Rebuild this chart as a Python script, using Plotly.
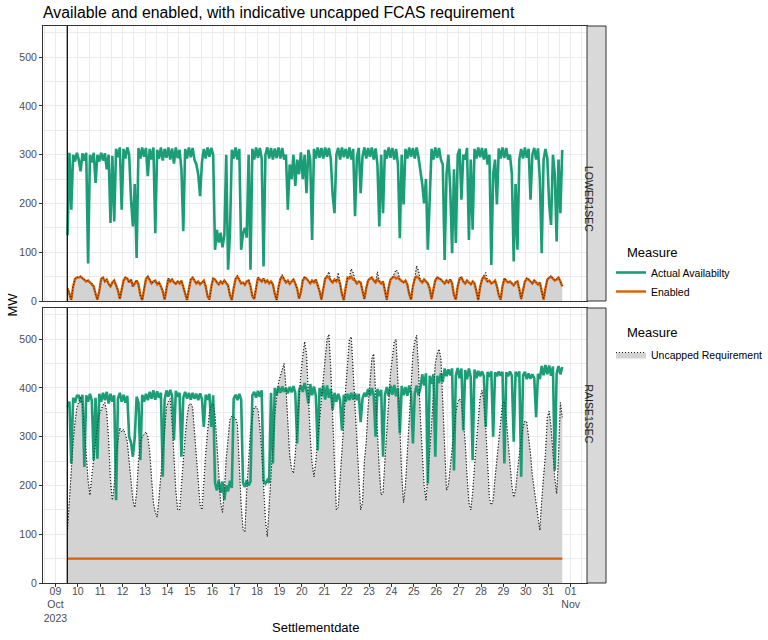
import pandas as pd
import plotly.graph_objects as go
from plotly.subplots import make_subplots

# Relevés toutes les 2 heures, du 09 oct 13:00 au 31 oct 15:00
times = pd.date_range("2023-10-09 13:00", "2023-10-31 15:00", freq="2h")

# LOWER1SEC - disponibilité réelle (MW)
lower_avail = [
    135, 304, 187, 300, 286, 304,                                # 09
    290, 266, 303, 288, 304, 77, 300, 284, 304, 242, 300, 286,   # 10
    304, 288, 303, 270, 300, 160, 298, 163, 312, 295, 315, 187,  # 11
    312, 292, 315, 300, 208, 153, 240, 88, 314, 292, 315, 296,   # 12
    314, 256, 312, 290, 315, 139, 310, 292, 315, 288, 312, 294,  # 13
    315, 290, 313, 282, 315, 293, 310, 270, 143, 312, 292, 315,  # 14
    295, 314, 290, 280, 260, 215, 285, 312, 292, 315, 296, 314,  # 15
    300, 105, 146, 120, 140, 110, 135, 300, 64, 140, 310, 292,   # 16
    315, 290, 312, 105, 139, 150, 130, 300, 64, 312, 290, 315,   # 17
    294, 314, 292, 71, 300, 315, 292, 314, 290, 313, 293, 315,   # 18
    292, 314, 290, 300, 187, 280, 250, 300, 236, 290, 260, 305,  # 19
    250, 300, 221, 310, 290, 125, 312, 292, 315, 294, 314, 292,  # 20
    315, 296, 314, 292, 218, 180, 300, 314, 290, 315, 295, 312,  # 21
    292, 315, 290, 312, 174, 295, 314, 221, 296, 315, 292, 314,  # 22
    296, 315, 290, 313, 280, 153, 300, 180, 310, 292, 315, 294,  # 23
    314, 290, 312, 280, 129, 300, 198, 312, 292, 315, 296, 314,  # 24
    292, 315, 295, 270, 240, 200, 250, 105, 230, 312, 290, 315,  # 25
    294, 314, 290, 280, 84, 260, 300, 230, 98, 270, 119, 300,    # 26
    312, 208, 300, 290, 314, 125, 290, 146, 312, 292, 315, 295,  # 27
    314, 290, 313, 280, 300, 74, 260, 290, 198, 313, 292, 315,   # 28
    293, 314, 290, 300, 260, 81, 240, 105, 290, 312, 292, 315,   # 29
    294, 312, 208, 300, 314, 290, 313, 250, 98, 290, 312, 292,   # 30
    198, 156, 300, 260, 122, 290, 180, 310,                      # 31
]

# LOWER1SEC - activé (MW)
lower_enabled = [
    26, 12, 3, 30, 45, 48,                          # 09
    48, 50, 46, 44, 40, 42, 38, 36, 30, 15, 3, 20,  # 10
    45, 48, 40, 44, 35, 30, 38, 42, 30, 22, 4, 25,  # 11
    42, 48, 46, 38, 44, 30, 36, 42, 34, 12, 2, 28,  # 12
    45, 50, 44, 36, 40, 42, 34, 38, 30, 20, 3, 22,  # 13
    46, 40, 44, 38, 35, 40, 36, 42, 30, 18, 2, 24,  # 14
    44, 48, 42, 36, 40, 34, 38, 42, 30, 10, 3, 30,  # 15
    46, 44, 38, 34, 40, 36, 42, 38, 32, 12, 2, 26,  # 16
    45, 50, 42, 36, 38, 33, 40, 42, 30, 10, 4, 30,  # 17
    48, 44, 40, 46, 38, 42, 36, 40, 34, 15, 2, 28,  # 18
    45, 50, 44, 38, 42, 35, 40, 44, 36, 25, 5, 18,  # 19
    42, 48, 46, 40, 36, 42, 38, 44, 34, 20, 3, 22,  # 20
    46, 50, 48, 42, 38, 44, 40, 46, 35, 14, 2, 28,  # 21
    48, 46, 50, 44, 42, 36, 40, 38, 20, 4, 26, 42,  # 22
    46, 48, 42, 38, 44, 40, 36, 40, 22, 3, 28, 44,  # 23
    48, 50, 46, 48, 44, 40, 38, 42, 34, 15, 3, 30,  # 24
    46, 50, 48, 42, 38, 44, 40, 36, 25, 4, 24, 42,  # 25
    48, 46, 44, 40, 36, 42, 38, 44, 36, 12, 3, 30,  # 26
    46, 48, 40, 36, 42, 38, 34, 40, 36, 20, 2, 28,  # 27
    44, 50, 46, 40, 42, 36, 38, 42, 30, 12, 3, 30,  # 28
    46, 42, 38, 40, 36, 32, 38, 40, 24, 4, 22, 40,  # 29
    46, 44, 40, 36, 42, 38, 34, 38, 22, 3, 26, 44,  # 30
    48, 50, 46, 42, 44, 48, 40, 30,                 # 31
]

# LOWER1SEC - besoin indicatif non plafonné (MW)
lower_req = [
    27, 12, 3, 31, 46, 49,                          # 09
    49, 51, 46, 44, 41, 42, 38, 37, 30, 15, 3, 20,  # 10
    46, 49, 40, 44, 35, 30, 38, 42, 31, 22, 4, 25,  # 11
    42, 49, 46, 38, 45, 30, 36, 43, 34, 12, 2, 28,  # 12
    46, 51, 44, 36, 40, 42, 34, 38, 30, 20, 3, 22,  # 13
    47, 40, 44, 38, 35, 41, 36, 42, 30, 18, 2, 24,  # 14
    44, 49, 42, 36, 40, 34, 38, 42, 30, 10, 3, 30,  # 15
    47, 44, 38, 34, 40, 36, 43, 38, 32, 12, 2, 26,  # 16
    46, 52, 42, 36, 38, 33, 40, 43, 30, 10, 4, 30,  # 17
    49, 44, 40, 47, 38, 42, 36, 40, 34, 15, 2, 28,  # 18
    46, 54, 44, 38, 42, 35, 40, 45, 36, 25, 5, 18,  # 19
    43, 50, 47, 40, 36, 42, 38, 45, 34, 20, 3, 22,  # 20
    46, 52, 60, 42, 38, 44, 40, 58, 35, 14, 2, 28,  # 21
    48, 50, 66, 58, 42, 36, 40, 38, 20, 4, 26, 42,  # 22
    46, 48, 42, 38, 60, 40, 36, 40, 22, 3, 28, 44,  # 23
    48, 56, 64, 60, 44, 40, 38, 42, 34, 15, 3, 30,  # 24
    46, 72, 62, 42, 38, 44, 40, 36, 25, 4, 24, 42,  # 25
    49, 47, 44, 40, 36, 42, 38, 45, 36, 12, 3, 30,  # 26
    47, 49, 40, 36, 42, 38, 34, 40, 36, 20, 2, 28,  # 27
    44, 52, 58, 40, 42, 36, 38, 42, 30, 12, 3, 30,  # 28
    47, 42, 38, 40, 36, 32, 38, 41, 24, 4, 22, 40,  # 29
    47, 44, 40, 36, 43, 38, 34, 38, 22, 3, 26, 44,  # 30
    49, 52, 46, 42, 45, 49, 40, 31,                 # 31
]

# RAISE1SEC - disponibilité réelle (MW)
raise_avail = [
    360, 372, 245, 380, 370, 384,                                # 09
    384, 370, 386, 238, 385, 372, 388, 374, 252, 380, 255, 388,  # 10
    372, 390, 375, 392, 368, 388, 372, 385, 170, 378, 390, 372,  # 11
    386, 370, 384, 300, 288, 259, 298, 382, 370, 252, 386, 372,  # 12
    388, 375, 392, 378, 395, 376, 393, 380, 390, 218, 376, 395,  # 13
    382, 396, 384, 293, 394, 382, 390, 259, 380, 392, 378, 390,  # 14
    376, 390, 378, 388, 375, 389, 377, 320, 386, 376, 388, 320,  # 15
    385, 205, 190, 210, 185, 208, 170, 200, 188, 210, 195, 378,  # 16
    386, 375, 388, 376, 205, 197, 211, 200, 208, 385, 392, 380,  # 17
    394, 382, 395, 210, 204, 211, 205, 390, 245, 400, 385, 403,  # 18
    390, 403, 392, 400, 389, 402, 391, 404, 390, 286, 395, 405,  # 19
    392, 410, 395, 368, 408, 385, 403, 384, 272, 400, 383, 405,  # 20
    376, 405, 380, 398, 355, 390, 372, 388, 375, 313, 386, 372,  # 21
    388, 375, 390, 376, 389, 375, 388, 330, 378, 390, 382, 398,  # 22
    384, 400, 385, 300, 398, 383, 396, 259, 385, 402, 384, 405,  # 23
    386, 406, 383, 400, 307, 404, 385, 402, 384, 405, 388, 286,  # 24
    390, 405, 385, 400, 428, 405, 430, 204, 425, 408, 428, 259,  # 25
    425, 410, 430, 412, 440, 424, 438, 426, 440, 231, 425, 441,  # 26
    420, 440, 313, 437, 418, 440, 422, 252, 438, 420, 435, 424,  # 27
    434, 424, 320, 433, 423, 434, 300, 432, 424, 434, 425, 433,  # 28
    245, 432, 424, 434, 425, 290, 433, 424, 434, 218, 426, 433,  # 29
    418, 430, 419, 428, 420, 340, 429, 418, 445, 426, 447, 428,  # 30
    446, 425, 444, 231, 430, 445, 428, 443,                      # 31
]

# RAISE1SEC - activé (MW), constant sur toute la période
raise_enabled = [50] * len(times)

# RAISE1SEC - besoin indicatif non plafonné (MW)
raise_req = [
    110, 175, 240, 290, 330, 360,                                # 09
    370, 382, 365, 320, 265, 210, 180, 220, 255, 290, 325, 345,  # 10
    355, 365, 370, 350, 295, 210, 170, 200, 265, 295, 318, 310,  # 11
    315, 305, 290, 250, 200, 170, 155, 185, 250, 290, 300, 305,  # 12
    310, 300, 270, 215, 165, 145, 135, 175, 225, 275, 325, 360,  # 13
    372, 378, 330, 255, 190, 150, 150, 200, 255, 300, 340, 365,  # 14
    368, 360, 310, 255, 200, 160, 150, 215, 265, 310, 350, 365,  # 15
    368, 345, 290, 215, 165, 145, 190, 255, 300, 335, 342, 340,  # 16
    338, 325, 230, 160, 110, 105, 190, 265, 310, 340, 360, 362,  # 17
    355, 320, 270, 200, 130, 95, 160, 230, 290, 345, 380, 410,   # 18
    425, 440, 450, 400, 320, 260, 235, 225, 265, 320, 380, 430,  # 19
    465, 495, 470, 380, 300, 245, 218, 250, 295, 335, 380, 420,  # 20
    460, 500, 510, 440, 340, 240, 150, 155, 210, 255, 330, 400,  # 21
    450, 500, 505, 440, 360, 300, 220, 150, 165, 250, 290, 360,  # 22
    410, 460, 470, 380, 300, 230, 180, 185, 250, 300, 370, 430,  # 23
    470, 495, 500, 420, 320, 220, 165, 200, 265, 310, 400, 470,  # 24
    495, 508, 440, 340, 255, 200, 170, 215, 270, 325, 390, 450,  # 25
    470, 480, 460, 360, 270, 190, 200, 240, 280, 320, 350, 370,  # 26
    378, 370, 330, 290, 220, 165, 150, 185, 240, 290, 340, 380,  # 27
    395, 375, 320, 230, 175, 160, 170, 215, 255, 300, 340, 368,  # 28
    372, 340, 290, 240, 200, 176, 190, 230, 265, 295, 320, 332,  # 29
    330, 300, 265, 220, 190, 160, 135, 108, 170, 215, 265, 340,  # 30
    352, 320, 265, 215, 183, 260, 370, 340,                      # 31
]

# Graduations de l'axe des dates
tick_days = pd.date_range("2023-10-09", "2023-11-01", freq="D")
tick_text = ["09<br>Oct<br>2023"] + [d.strftime("%d") for d in tick_days[1:-1]] + ["01<br>Nov"]
minor_days = pd.date_range("2023-10-08 12:00", "2023-11-01 12:00", freq="D")
x_range = ["2023-10-08 10:42", "2023-11-01 17:31"]
event_time = "2023-10-09 12:45"

GREEN = "#1B9E77"
ORANGE = "#D95F02"
FILL = "#D3D3D3"
FONT = "Liberation Sans, Arial, sans-serif"

panels = [
    ("LOWER1SEC", lower_avail, lower_enabled, lower_req),
    ("RAISE1SEC", raise_avail, raise_enabled, raise_req),
]

fig = make_subplots(rows=2, cols=1, shared_xaxes=True, vertical_spacing=7 / 557)

for i, (service, avail, enabled, req) in enumerate(panels):
    row = i + 1
    first = row == 1
    # Zone grise du besoin non plafonné
    fig.add_trace(go.Scatter(
        x=times, y=req, mode="lines", fill="tozeroy", fillcolor=FILL,
        line=dict(color="#222222", width=1, dash="1px,2px"),
        name="Uncapped Requirement", legend="legend2", legendgroup="req",
        showlegend=first,
    ), row=row, col=1)
    fig.add_trace(go.Scatter(
        x=times, y=avail, mode="lines", line=dict(color=GREEN, width=2.6),
        name="Actual Availabilty", legendgroup="avail", showlegend=first,
    ), row=row, col=1)
    fig.add_trace(go.Scatter(
        x=times, y=enabled, mode="lines", line=dict(color=ORANGE, width=2.4),
        name="Enabled", legendgroup="enabled", showlegend=first,
    ), row=row, col=1)
    # Pointillés au-dessus des courbes
    fig.add_trace(go.Scatter(
        x=times, y=req, mode="lines",
        line=dict(color="#222222", width=1, dash="1px,2px"),
        legend="legend2", legendgroup="req", showlegend=False, hoverinfo="skip",
    ), row=row, col=1)

axis_common = dict(
    showgrid=True, gridcolor="#EBEBEB", gridwidth=1, zeroline=False,
    showline=True, mirror=True, linecolor="#333333", linewidth=1,
    tickfont=dict(family=FONT, size=10.5, color="#4D4D4D"),
    ticklen=3, tickcolor="#333333", automargin=False,
)

fig.update_xaxes(
    range=x_range, tickmode="array", tickvals=tick_days, ticktext=tick_text,
    minor=dict(tickmode="array", tickvals=minor_days, showgrid=True,
               gridcolor="#EBEBEB", gridwidth=0.5, ticks=""),
    **axis_common,
)
fig.update_xaxes(ticks="", showticklabels=False, row=1, col=1)
fig.update_xaxes(ticks="outside", ticklabelstandoff=-5, row=2, col=1)
fig.update_yaxes(
    range=[0, 564], tickvals=[0, 100, 200, 300, 400, 500], ticks="outside",
    minor=dict(tickvals=[50, 150, 250, 350, 450, 550], showgrid=True,
               gridcolor="#EBEBEB", gridwidth=0.5, ticks=""),
    **axis_common,
)

# Bandeaux des facettes et ligne verticale
domains = [fig.layout.yaxis.domain, fig.layout.yaxis2.domain]
strip_x1 = (606 - 43) / 544
for (service, _, _, _), dom, xr, yr in zip(panels, domains, ["x", "x2"], ["y domain", "y2 domain"]):
    fig.add_shape(type="rect", xref="paper", yref="paper", x0=1.0, x1=strip_x1,
                  y0=dom[0], y1=dom[1], fillcolor="#D9D9D9",
                  line=dict(color="#333333", width=1), layer="above")
    fig.add_annotation(text=service, xref="paper", yref="paper",
                       x=(1.0 + strip_x1) / 2, y=(dom[0] + dom[1]) / 2,
                       textangle=90, showarrow=False,
                       font=dict(family=FONT, size=10.5, color="#1A1A1A"))
    fig.add_shape(type="line", xref=xr, yref=yr, x0=event_time, x1=event_time,
                  y0=0, y1=1, line=dict(color="black", width=1.2))

fig.add_annotation(text="MW", xref="paper", yref="paper", x=(12 - 43) / 544, y=0.5,
                   xanchor="center", yanchor="middle", textangle=-90, showarrow=False,
                   font=dict(family=FONT, size=13, color="black"))
fig.add_annotation(text="Settlementdate", xref="paper", yref="paper", x=0.5,
                   y=(583 - 627) / 557, showarrow=False, xanchor="center", yanchor="middle",
                   font=dict(family=FONT, size=13, color="black"))

# Titres des légendes
for y_px in (252, 332):
    fig.add_annotation(text="Measure", xref="paper", yref="paper",
                       x=(625 - 43) / 544, y=(583 - y_px) / 557,
                       xanchor="left", yanchor="middle", showarrow=False,
                       font=dict(family=FONT, size=13, color="black"))

legend_common = dict(
    xref="paper", yref="paper", xanchor="left", yanchor="top",
    bgcolor="rgba(0,0,0,0)", itemwidth=30, tracegroupgap=0,
    font=dict(family=FONT, size=10.5, color="black"),
)

fig.update_layout(
    width=768, height=640,
    margin=dict(l=43, r=181, t=26, b=57, autoexpand=False),
    paper_bgcolor="white", plot_bgcolor="white",
    font=dict(family=FONT, color="black"),
    title=dict(text="Available and enabled, with indicative uncapped FCAS requirement",
               x=43 / 768, xanchor="left", y=1 - 12 / 640, yanchor="middle",
               font=dict(family=FONT, size=15.8, color="black")),
    legend=dict(x=(611 - 43) / 544, y=(583 - 258) / 557, **legend_common),
    legend2=dict(x=(611 - 43) / 544, y=(583 - 340) / 557, **legend_common),
    showlegend=True,
)

# La page HTML ajoute une marge de 8 px autour du graphique : on la retire
fig.write_html("out.html", config={"displayModeBar": False},
               post_script="document.body.style.margin = '0px';")
